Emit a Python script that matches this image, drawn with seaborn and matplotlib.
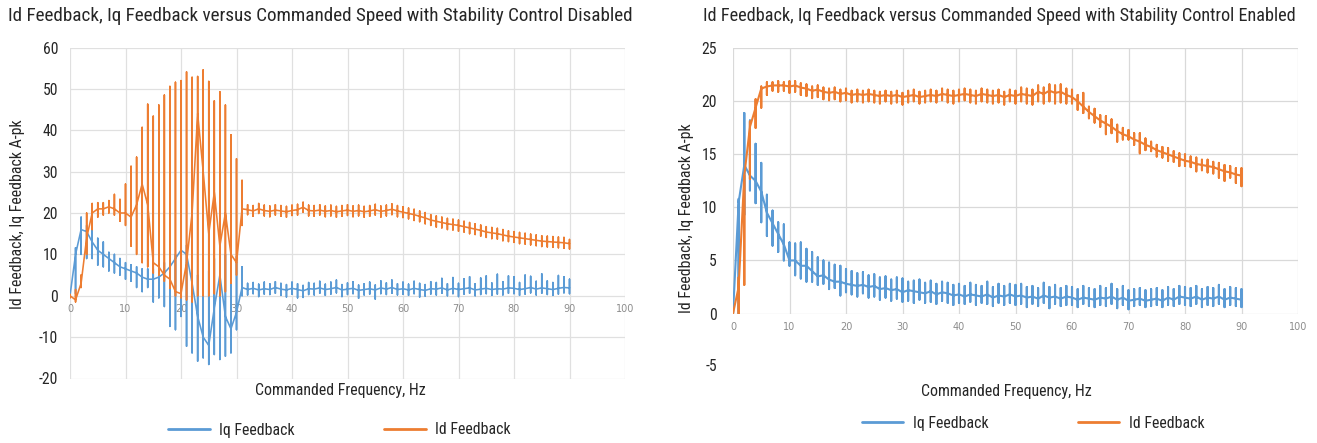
import numpy as np
import pandas as pd
import matplotlib
matplotlib.use("Agg")
import matplotlib.pyplot as plt
import seaborn as sns
from matplotlib import font_manager as fm
from matplotlib.lines import Line2D
from matplotlib import transforms

# ---------------------------------------------------------------------------
# Data: one sample per commanded frequency step (Hz); each step is drawn as a
# vertical excursion (lo..hi) around the running level (mid).
# ---------------------------------------------------------------------------
freq_hz = list(range(0, 91))

# Stability control disabled
iq_off_mid = [0, 10, 16, 15.5, 13, 11, 10, 9, 8, 7,
              6.5, 6, 5.5, 4.5, 4, 4, 4.5, 5.5, 7, 9,
              11, 10, 3, -5, -10, -12, -3, 5, -5, -8,
              -4, 2, 1.5, 1.8, 1.4, 1.7, 1.5, 2.0, 1.6, 1.4,
              1.8, 1.5, 1.2, 1.7, 1.6, 1.9, 1.5, 1.7, 2.0, 1.4,
              1.6, 1.8, 1.3, 1.5, 1.7, 1.4, 1.9, 1.6, 2.0, 1.5,
              1.7, 1.4, 1.8, 1.5, 1.3, 1.7, 1.6, 1.9, 1.4, 1.8,
              1.5, 1.7, 1.9, 1.4, 1.6, 1.8, 1.5, 1.7, 1.6, 1.9,
              1.8, 1.5, 1.7, 2.0, 1.6, 1.9, 1.7, 1.5, 1.8, 2.0,
              1.9]
iq_off_lo = [-0.3, 0.5, 10, 9, 9, 7.4, 7, 6, 5.5, 5,
             4, 3.5, 2, 1, 2, -1.5, -0.5, -2.6, -7.4, -8.2,
             -5, -12.2, -13.8, -15.8, -15, -16.6, -14.2, -15.4, -14.6, -13.8,
             -8.2, 0, 0.2, 0.5, -0.2, 0.4, 0.3, 0.6, 0.1, -0.3,
             0.4, -0.5, -0.4, 0.3, 0.2, 0.6, 0.1, 0.4, 0.7, -0.2,
             0.3, 0.5, -0.6, 0.2, 0.4, -0.8, 0.5, 0.3, 0.6, 0.2,
             0.4, 0.1, 0.5, -0.3, -0.1, 0.4, 0.2, 0.6, 0.0, 0.5,
             -0.2, 0.4, 0.6, 0.0, 0.3, 0.5, 0.1, 0.4, 0.2, 0.6,
             0.5, 0.1, 0.4, 0.7, 0.2, 0.6, 0.3, 0.1, 0.4, 0.7,
             0.5]
iq_off_hi = [0.5, 11.6, 19, 17, 16.5, 13.9, 13, 10.5, 10, 9,
             8, 7.5, 7, 6.5, 6.5, 6.5, 7, 8, 8.5, 10,
             12, 12.2, 9, 5, 3, 6, 9, 11, 10, 8,
             9.5, 7, 3.0, 3.2, 2.8, 3.3, 2.9, 3.4, 3.0, 2.7,
             3.3, 2.9, 2.5, 3.2, 3.0, 3.5, 2.8, 3.3, 3.8, 2.7,
             3.1, 3.4, 2.6, 2.9, 3.3, 2.6, 3.6, 3.1, 3.8, 2.9,
             3.3, 2.8, 3.5, 3.0, 2.7, 3.4, 3.2, 4.2, 2.9, 4.4,
             3.0, 4.1, 4.6, 2.9, 4.3, 4.8, 3.1, 5.2, 3.4, 4.8,
             4.6, 3.2, 5.0, 4.7, 3.5, 5.3, 3.6, 3.2, 4.9, 4.6,
             4.0]

id_off_mid = [0, -1, 3, 14, 20, 21, 21, 21.5, 21, 20,
              20, 19, 22, 27, 22, 8, 7, 5, 4, 1,
              0.5, 8, 20, 44, 30, 15, 25, 12, 20, 10,
              8, 21, 20.8, 20.5, 21.0, 20.6, 20.4, 20.7, 20.5, 20.3,
              20.6, 20.8, 21.4, 20.6, 20.5, 20.7, 20.4, 20.6, 20.3, 20.5,
              20.7, 20.4, 20.6, 20.3, 20.5, 20.8, 20.4, 20.6, 20.9, 20.5,
              20.2, 19.9, 19.6, 19.2, 18.8, 18.3, 18.0, 17.7, 17.4, 17.2,
              17.0, 16.7, 16.4, 16.1, 15.8, 15.4, 15.2, 15.0, 14.7, 14.4,
              14.2, 14.0, 13.8, 13.6, 13.4, 13.2, 13.1, 13.0, 12.9, 12.8,
              12.6]
id_off_lo = [-0.5, -1.5, 2, 10, 16, 19, 19.5, 20, 19.5, 18,
             17, 12, 10, 8, 7, 5.5, 5, 3.5, 1.8, 0,
             -0.5, -1, -1.5, 0, 0, 0, 0.5, 0, 1, 3,
             5, 17, 19.6, 19.2, 19.9, 19.3, 19.1, 19.5, 19.2, 19.0,
             19.4, 19.5, 20.2, 19.3, 19.2, 19.5, 19.1, 19.3, 19.0, 19.2,
             19.4, 19.1, 19.3, 19.0, 19.2, 19.5, 19.0, 19.3, 19.6, 19.1,
             18.9, 18.6, 18.2, 17.9, 17.4, 17.0, 16.6, 16.4, 16.0, 15.9,
             15.6, 15.4, 15.0, 14.8, 14.4, 14.1, 13.8, 13.7, 13.3, 13.1,
             12.9, 12.6, 12.5, 12.3, 12.1, 11.9, 11.8, 11.7, 11.6, 11.5,
             11.3]
id_off_hi = [0.3, 1.5, 5, 20, 22.3, 22.5, 22.5, 23, 24.5, 23.3,
             27, 31.3, 33.5, 40.7, 46.3, 43.4, 46.1, 48.5, 50.6, 51.6,
             52, 54.1, 52.8, 53, 54.6, 51.8, 47.1, 49.3, 46.1, 38.9,
             33.1, 27.9, 22.0, 21.8, 22.3, 21.9, 21.7, 22.0, 21.8, 21.6,
             21.9, 22.1, 22.6, 21.9, 21.8, 22.0, 21.7, 21.9, 21.6, 21.8,
             22.0, 21.7, 21.9, 21.6, 21.8, 22.1, 21.7, 21.9, 22.2, 21.8,
             21.5, 21.2, 20.9, 20.5, 20.1, 19.6, 19.3, 19.0, 18.7, 18.5,
             18.3, 18.0, 17.7, 17.4, 17.1, 16.7, 16.5, 16.3, 16.0, 15.7,
             15.5, 15.3, 15.1, 14.9, 14.7, 14.5, 14.4, 14.3, 14.2, 14.1,
             13.6]

# Stability control enabled
iq_on_mid = [0, 10.5, 14, 13, 12.5, 11.5, 9.5, 8.5, 7.5, 6.5,
             5, 5, 4.5, 4.5, 4, 3.5, 3.6, 3.2, 3.0, 3.0,
             2.8, 2.7, 2.6, 2.7, 2.5, 2.6, 2.3, 2.4, 2.2, 2.3,
             2.0, 2.2, 2.1, 2.0, 1.9, 2.1, 1.8, 2.0, 1.9, 1.7,
             1.8, 1.6, 1.8, 1.7, 1.6, 1.8, 1.5, 1.7, 1.6, 1.8,
             1.6, 1.7, 1.5, 1.6, 1.4, 1.7, 1.5, 1.6, 1.4, 1.6,
             1.5, 1.3, 1.5, 1.4, 1.3, 1.5, 1.4, 1.6, 1.3, 1.5,
             1.2, 1.3, 1.4, 1.2, 1.3, 1.4, 1.2, 1.5, 1.3, 1.6,
             1.5, 1.4, 1.6, 1.3, 1.5, 1.4, 1.6, 1.3, 1.5, 1.4,
             1.3]
iq_on_lo = [0, 0, 9.3, 11.6, 10.4, 8.6, 7.3, 6.4, 5.8, 5.0,
            4.5, 3.6, 3.3, 3.0, 3.0, 2.7, 2.8, 2.3, 2.4, 1.7,
            2.0, 1.8, 1.6, 1.9, 1.5, 1.6, 1.3, 1.5, 1.2, 1.4,
            1.1, 1.2, 1.0, 1.3, 1.0, 1.1, 0.9, 1.2, 1.0, 0.8,
            1.0, 0.9, 1.1, 0.8, 1.0, 0.9, 0.7, 1.0, 0.8, 1.0,
            0.8, 0.9, 0.6, 0.9, 0.7, 1.0, 0.5, 0.9, 0.7, 0.8,
            0.8, 0.6, 0.9, 0.7, 0.6, 0.8, 0.7, 0.9, 0.5, 0.8,
            0.4, 0.7, 0.8, 0.6, 0.7, 0.8, 0.6, 0.8, 0.7, 0.9,
            0.8, 0.7, 0.9, 0.6, 0.8, 0.7, 0.9, 0.6, 0.8, 0.7,
            0.6]
iq_on_hi = [0.2, 10.8, 18.9, 18.2, 16.0, 14.2, 11.2, 9.7, 8.6, 8.4,
            6.7, 6.6, 6.7, 6.1, 5.8, 5.3, 5.0, 4.8, 4.6, 4.5,
            4.2, 4.0, 3.8, 3.9, 3.6, 3.7, 3.4, 3.5, 3.2, 3.4,
            3.3, 3.0, 3.1, 3.2, 2.9, 3.1, 2.8, 3.0, 2.9, 2.7,
            2.8, 2.6, 2.9, 2.7, 2.6, 3.0, 2.5, 2.8, 2.6, 2.8,
            2.7, 2.8, 2.5, 2.6, 2.4, 2.9, 2.5, 2.7, 2.4, 2.6,
            2.5, 2.3, 2.6, 2.4, 2.3, 2.6, 2.4, 2.8, 2.3, 2.6,
            2.2, 2.3, 2.4, 2.2, 2.3, 2.4, 2.2, 2.5, 2.3, 2.6,
            2.5, 2.4, 2.6, 2.3, 2.5, 2.4, 2.7, 2.3, 2.5, 2.4,
            2.3]

id_on_mid = [0, 2.5, 13, 17.6, 19.4, 21.2, 21.4, 21.5, 21.5, 21.5,
             21.4, 21.5, 21.3, 21.2, 21.0, 21.1, 20.9, 20.8, 20.9, 20.7,
             20.8, 20.6, 20.7, 20.6, 20.7, 20.6, 20.5, 20.6, 20.5, 20.6,
             20.4, 20.5, 20.6, 20.4, 20.5, 20.6, 20.5, 20.7, 20.6, 20.5,
             20.6, 20.7, 20.6, 20.5, 20.7, 20.6, 20.5, 20.6, 20.4, 20.6,
             20.5, 20.7, 20.6, 20.5, 20.9, 20.7, 21.0, 20.8, 20.9, 20.6,
             20.4, 20.0, 19.5, 19.0, 18.6, 18.2, 17.9, 17.6, 17.2, 16.9,
             16.7, 16.4, 16.2, 15.9, 15.7, 15.4, 15.2, 15.0, 14.8, 14.6,
             14.4, 14.3, 14.1, 14.0, 13.9, 13.8, 13.6, 13.4, 13.3, 13.1,
             13.0]
id_on_lo = [0, 0, 2.7, 12.7, 17.5, 19.4, 20.6, 21.0, 20.9, 21.0,
            20.8, 20.9, 20.6, 20.5, 20.3, 20.4, 20.2, 20.1, 20.2, 20.0,
            20.1, 19.9, 20.0, 19.9, 20.0, 19.9, 19.8, 20.0, 19.8, 19.9,
            19.7, 19.9, 20.0, 19.8, 19.9, 20.0, 19.9, 20.1, 19.9, 19.8,
            20.0, 20.1, 19.9, 19.8, 20.0, 19.9, 19.8, 19.9, 19.7, 20.0,
            19.8, 20.0, 19.8, 19.7, 20.0, 19.8, 20.0, 19.8, 19.9, 19.8,
            19.8, 19.2, 18.9, 18.4, 18.0, 17.6, 16.9, 17.0, 16.2, 16.4,
            16.4, 15.9, 15.1, 15.4, 15.3, 14.8, 14.7, 14.4, 14.3, 13.9,
            13.9, 13.8, 13.4, 13.5, 13.3, 13.2, 12.8, 12.5, 12.8, 12.3,
            12.0]
id_on_hi = [0.3, 3.4, 13, 18.1, 20.2, 21.4, 21.8, 21.8, 21.9, 21.8,
            21.9, 21.9, 21.7, 21.6, 21.4, 21.5, 21.3, 21.2, 21.3, 21.1,
            21.2, 21.0, 21.1, 21.0, 21.1, 21.0, 20.9, 21.0, 20.9, 21.0,
            20.8, 21.0, 21.1, 20.9, 21.0, 21.1, 21.0, 21.2, 21.1, 21.0,
            21.1, 21.2, 21.1, 21.0, 21.2, 21.1, 21.0, 21.1, 20.9, 21.1,
            21.0, 21.3, 21.2, 21.1, 21.5, 21.3, 21.6, 21.5, 21.6, 21.2,
            21.1, 20.6, 20.8, 19.5, 19.3, 18.7, 18.6, 18.3, 17.8, 17.5,
            17.3, 17.0, 17.0, 16.5, 16.2, 15.9, 15.7, 15.6, 15.3, 15.1,
            15.0, 14.8, 14.7, 14.5, 14.5, 14.3, 14.2, 14.0, 13.9, 13.7,
            13.7]

x_ticks = list(range(0, 101, 10))
y_ticks_off = list(range(-20, 61, 10))
y_ticks_on = list(range(0, 26, 5))

series_labels = ["Iq Feedback", "Id Feedback"]
titles = ["Id Feedback, Iq Feedback versus Commanded Speed with Stability Control Disabled",
          "Id Feedback, Iq Feedback versus Commanded Speed with Stability Control Enabled"]
x_label = "Commanded Frequency, Hz"
y_label = "Id Feedback, Iq Feedback A-pk"

BLUE = "#5B9BD5"
ORANGE = "#ED7D31"
TEXT = "#262626"


def trace(freqs, mid, lo, hi):
    """Expand each frequency step into level -> low -> high -> level."""
    xs, ys = [], []
    for f, m, l, h in zip(freqs, mid, lo, hi):
        xs += [f, f, f, f]
        ys += [m, l, h, m]
    return pd.DataFrame({"freq": xs, "amps": ys})


def pick_narrow_font():
    fam_order = ["roboto", "noto sans", "open sans", "liberation", "dejavu sans", "lato"]
    best = None
    for f in fm.fontManager.ttflist:
        if f.style != "normal":
            continue
        w = f.weight
        if not isinstance(w, (int, float)):
            w = {"normal": 400, "regular": 400, "book": 400}.get(str(w).lower(), 0)
        if w != 400:
            continue
        nm = f.name.lower()
        fn = f.fname.lower()
        narrow = ("condensed" in nm or "narrow" in nm or "condensed" in fn or "narrow" in fn
                  or str(f.stretch) in ("condensed", "semi-condensed", "extra-condensed"))
        if not narrow:
            continue
        fr = next((i for i, k in enumerate(fam_order) if nm.startswith(k)), 9)
        sr = 0 if "semicondensed" in fn.replace("-", "").replace("_", "") else (2 if "extra" in fn else 1)
        key = (fr, sr)
        if best is None or key < best[0]:
            best = (key, f.fname)
    if best is None:
        return fm.FontProperties(family="DejaVu Sans")
    return fm.FontProperties(fname=best[1])


sns.set_theme(style="white")
plt.rcParams["font.family"] = ["DejaVu Sans"]
plt.rcParams["axes.unicode_minus"] = False

W, H = 1317, 443
fig = plt.figure(figsize=(W / 100, H / 100), dpi=100)
FONT = pick_narrow_font()


def fp(size):
    p = FONT.copy()
    p.set_size(size)
    return p


# axes rectangles in pixels: left, top, right, bottom
def px_axes(l, t, r, b):
    return fig.add_axes([l / W, 1 - b / H, (r - l) / W, (b - t) / H])


ax_off = px_axes(70, 47.5, 625, 378.5)
ax_on = px_axes(733, 48.3, 1298, 313.5)

panels = [
    (ax_off, (iq_off_mid, iq_off_lo, iq_off_hi), (id_off_mid, id_off_lo, id_off_hi),
     (-20, 60), y_ticks_off, 1.15, 8.6, "#e0e0e0"),
    (ax_on, (iq_on_mid, iq_on_lo, iq_on_hi), (id_on_mid, id_on_lo, id_on_hi),
     (0, 25), y_ticks_on, 1.5, 11.5, "#d9d9d9"),
]

for ax, iq, idd, ylim, yt, lw, ypad, gcol in panels:
    sns.lineplot(data=trace(freq_hz, *iq), x="freq", y="amps", sort=False, estimator=None,
                 color=BLUE, lw=lw, ax=ax, legend=False)
    sns.lineplot(data=trace(freq_hz, *idd), x="freq", y="amps", sort=False, estimator=None,
                 color=ORANGE, lw=lw, ax=ax, legend=False)
    ax.set_xlim(0, 100)
    ax.set_ylim(*ylim)
    ax.set_xticks(x_ticks)
    ax.set_yticks(yt)
    ax.grid(True, color=gcol, lw=0.9)
    ax.set_axisbelow(True)
    for s in ax.spines.values():
        s.set_visible(False)
    ax.set_xlabel("")
    ax.set_ylabel("")
    ax.tick_params(axis="both", length=0)
    ax.tick_params(axis="x", pad=6.0, labelsize=7, labelcolor="#8c8c8c")
    ax.tick_params(axis="y", pad=ypad)
    for lab in ax.get_yticklabels():
        lab.set_fontproperties(fp(10))
        lab.set_color(TEXT)

# the disabled panel carries its frequency labels along the zero line
ax_off.spines["bottom"].set_position(("data", 0))

# the enabled panel shows one extra value label below its plot area
trans_on = transforms.blended_transform_factory(ax_on.transAxes, ax_on.transData)
minus5 = ax_on.text(-16 / 565, -5, "-5", transform=trans_on, ha="right", va="center",
                    fontproperties=fp(10), color=TEXT, clip_on=False)

# titles, axis labels, legends in figure coordinates
t1 = fig.text(320 / W, 1 - 16 / H, titles[0], ha="center", va="center", fontproperties=fp(11), color=TEXT)
t2 = fig.text(999 / W, 1 - 16 / H, titles[1], ha="center", va="center", fontproperties=fp(11), color=TEXT)
xl1 = fig.text(340.5 / W, 1 - 390 / H, x_label, ha="center", va="center", fontproperties=fp(10), color=TEXT)
xl2 = fig.text(1006 / W, 1 - 391.5 / H, x_label, ha="center", va="center", fontproperties=fp(10), color=TEXT)
yl1 = fig.text(18 / W, 1 - 214 / H, y_label, ha="center", va="center", rotation=90, fontproperties=fp(10), color=TEXT)
yl2 = fig.text(686 / W, 1 - 218 / H, y_label, ha="center", va="center", rotation=90, fontproperties=fp(10), color=TEXT)

fig.canvas.draw()
rend = fig.canvas.get_renderer()


def fit(t, target_px, vertical=False):
    bb = t.get_window_extent(rend)
    cur = bb.height if vertical else bb.width
    t.set_fontsize(t.get_fontsize() * target_px / cur)
    return t.get_fontsize()


fit(t1, 624)
fit(t2, 592)
base = fit(xl1, 171)
xl2.set_fontsize(base)
yl1.set_fontsize(base)
yl2.set_fontsize(base)
for ax in (ax_off, ax_on):
    for lab in ax.get_yticklabels():
        lab.set_fontsize(base * 0.98)
minus5.set_fontsize(base * 0.98)

handles = [Line2D([], [], color=BLUE, lw=2.0), Line2D([], [], color=ORANGE, lw=2.0)]
for cx, cy in ((339.5, 430), (1033, 423.5)):
    leg = fig.legend(handles, series_labels, loc="center", bbox_to_anchor=(cx / W, 1 - cy / H),
                     ncol=2, frameon=False, prop=fp(base), handlelength=2.6, handletextpad=0.6,
                     columnspacing=5.6)
    for txt in leg.get_texts():
        txt.set_color(TEXT)

fig.savefig("out.png", dpi=100, facecolor="white")
